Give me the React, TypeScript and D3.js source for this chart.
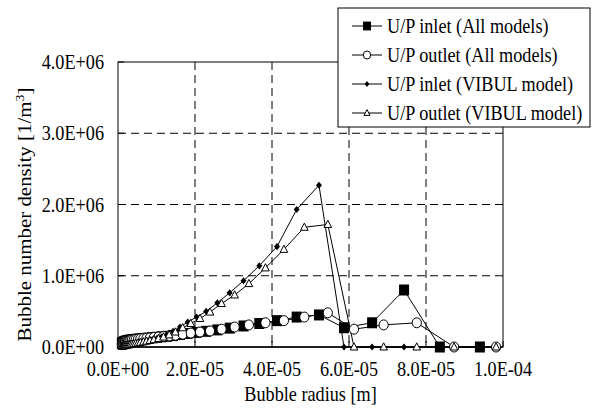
import * as d3 from 'd3';

// radii in micrometres, values in 1e6 per m3
const inletRadius = [1.0, 1.1, 1.2, 1.4, 1.5, 1.7, 1.9, 2.2, 2.5, 2.8, 3.1, 3.5, 3.9, 4.4, 5.0, 5.6, 6.3, 7.1, 7.9, 8.9, 10.1, 11.3, 12.7, 14.3, 16.1, 18.1, 20.4, 22.9, 25.8, 29.0, 32.6, 36.7, 41.3, 46.4, 52.2, 58.7, 66.0, 74.3, 83.6, 94.0];
const outletRadius = [1.0, 1.1, 1.3, 1.4, 1.6, 1.8, 2.0, 2.3, 2.6, 2.9, 3.2, 3.6, 4.1, 4.6, 5.2, 5.8, 6.6, 7.4, 8.3, 9.3, 10.5, 11.8, 13.3, 14.9, 16.8, 18.9, 21.3, 23.9, 26.9, 30.3, 34.0, 38.3, 43.1, 48.4, 54.5, 61.3, 69.0, 77.6, 87.3, 98.2];

const inletAll = [0.05, 0.055, 0.06, 0.065, 0.07, 0.075, 0.08, 0.085, 0.09, 0.093, 0.096, 0.1, 0.103, 0.106, 0.11, 0.113, 0.117, 0.121, 0.125, 0.13, 0.136, 0.143, 0.15, 0.16, 0.175, 0.19, 0.205, 0.22, 0.24, 0.265, 0.295, 0.33, 0.37, 0.42, 0.45, 0.27, 0.34, 0.8, 0, 0];
const outletAll = [0.045, 0.05, 0.055, 0.06, 0.065, 0.07, 0.075, 0.08, 0.085, 0.09, 0.094, 0.098, 0.102, 0.106, 0.11, 0.114, 0.118, 0.123, 0.128, 0.133, 0.14, 0.147, 0.155, 0.165, 0.18, 0.195, 0.21, 0.225, 0.25, 0.28, 0.31, 0.34, 0.37, 0.42, 0.48, 0.25, 0.31, 0.34, 0, 0];
const inletVibul = [0.01, 0.012, 0.014, 0.016, 0.018, 0.02, 0.023, 0.026, 0.03, 0.033, 0.037, 0.041, 0.046, 0.051, 0.057, 0.064, 0.072, 0.081, 0.091, 0.103, 0.12, 0.14, 0.17, 0.22, 0.28, 0.35, 0.42, 0.5, 0.62, 0.76, 0.93, 1.14, 1.41, 1.93, 2.27, 0, 0, 0, 0, 0];
const outletVibul = [0.01, 0.012, 0.014, 0.016, 0.018, 0.02, 0.023, 0.026, 0.03, 0.033, 0.037, 0.041, 0.046, 0.051, 0.057, 0.064, 0.072, 0.081, 0.091, 0.103, 0.118, 0.14, 0.17, 0.21, 0.27, 0.33, 0.4, 0.49, 0.61, 0.73, 0.89, 1.11, 1.37, 1.68, 1.72, 0, 0, 0, 0, 0];

const xTicks = [0, 2e-5, 4e-5, 6e-5, 8e-5, 1e-4];
const yTicks = [0, 1e6, 2e6, 3e6, 4e6];
const seriesNames = ['U/P inlet (All models)', 'U/P outlet (All models)', 'U/P inlet (VIBUL model)', 'U/P outlet (VIBUL model)'];

const W = 593;
const H = 415;
const left = 118, right = 503, top = 62, bottom = 347;
const FONT = '"Liberation Serif", "Times New Roman", serif';
const FS = 18.2;
const SY = 1.15;

const fmt = (v: number) => {
  if (v === 0) return '0.0E+00';
  const e = Math.floor(Math.log10(v) + 1e-9);
  const m = v / Math.pow(10, e);
  const sign = e < 0 ? '-' : '+';
  return `${m.toFixed(1)}E${sign}${String(Math.abs(e)).padStart(2, '0')}`;
};

const T = ({ x, y, anchor = 'start', children }: any) => (
  <text transform={`translate(${x},${y}) scale(1,${SY})`} textAnchor={anchor} fontFamily={FONT} fontSize={FS} fill="#000">
    {children}
  </text>
);

const Marker = ({ kind, x, y, s = 1 }: any) => {
  if (kind === 'square') return <rect x={x - 5 * s} y={y - 5.5 * s} width={10 * s} height={11 * s} fill="#000" />;
  if (kind === 'circle') return <ellipse cx={x} cy={y} rx={4.6 * s} ry={5 * s} fill="#fff" stroke="#000" strokeWidth={1} />;
  if (kind === 'diamond') return <path d={`M${x},${y - 3.6 * s}L${x + 3 * s},${y}L${x},${y + 3.6 * s}L${x - 3 * s},${y}Z`} fill="#000" />;
  return <path d={`M${x},${y - 4.2 * s}L${x + 3.8 * s},${y + 3 * s}L${x - 3.8 * s},${y + 3 * s}Z`} fill="#fff" stroke="#000" strokeWidth={1} />;
};

export default function App() {
  const x = d3.scaleLinear().domain([0, 1e-4]).range([left, right]);
  const y = d3.scaleLinear().domain([0, 4e6]).range([bottom, top]);

  const series = [
    { r: inletRadius, v: inletAll, kind: 'square' },
    { r: outletRadius, v: outletAll, kind: 'circle' },
    { r: inletRadius, v: inletVibul, kind: 'diamond' },
    { r: outletRadius, v: outletVibul, kind: 'triangle' },
  ].map((s) => ({ ...s, pts: s.r.map((r, i) => [x(r * 1e-6), y(s.v[i] * 1e6)] as [number, number]) }));

  const line = d3.line();

  return (
    <svg width={W} height={H} style={{ position: 'absolute', left: 0, top: 0, background: '#fff' }}>
      <rect x={0} y={0} width={W} height={H} fill="#fff" />
      {/* grid */}
      {yTicks.slice(1, -1).map((t) => (
        <line key={'gy' + t} x1={left} x2={right} y1={y(t)} y2={y(t)} stroke="#000" strokeDasharray="8,5" />
      ))}
      {xTicks.slice(1, -1).map((t) => (
        <line key={'gx' + t} x1={x(t)} x2={x(t)} y1={top} y2={bottom} stroke="#000" strokeDasharray="8,5" />
      ))}
      {/* frame */}
      <rect x={left} y={top} width={right - left} height={bottom - top} fill="none" stroke="#000" strokeWidth={1} />
      <line x1={left} x2={right} y1={bottom} y2={bottom} stroke="#000" strokeWidth={1.5} />
      {yTicks.map((t) => (
        <line key={'ty' + t} x1={left} x2={left + 6} y1={y(t)} y2={y(t)} stroke="#000" />
      ))}
      {xTicks.map((t) => (
        <line key={'tx' + t} x1={x(t)} x2={x(t)} y1={bottom} y2={bottom - 6} stroke="#000" />
      ))}
      {/* series */}
      {series.map((s, i) => (
        <g key={'s' + i}>
          <path d={line(s.pts) || ''} fill="none" stroke="#000" strokeWidth={1} />
        </g>
      ))}
      {series.map((s, i) => (
        <g key={'m' + i}>
          {s.pts.map((p, j) => (
            <Marker key={j} kind={s.kind} x={p[0]} y={p[1]} />
          ))}
        </g>
      ))}
      {/* tick labels */}
      {yTicks.map((t) => (
        <T key={'ly' + t} x={104} y={y(t) + 7} anchor="end">{fmt(t)}</T>
      ))}
      {xTicks.map((t) => (
        <T key={'lx' + t} x={x(t)} y={376} anchor="middle">{fmt(t)}</T>
      ))}
      <T x={(left + right) / 2} y={401} anchor="middle">Bubble radius [m]</T>
      <text transform={`translate(31,${(top + bottom) / 2 + 10}) rotate(-90) scale(${SY},1)`} textAnchor="middle" fontFamily={FONT} fontSize={FS} fill="#000">
        Bubble number density [1/m<tspan dy={-7} fontSize={12}>3</tspan><tspan dy={7}>]</tspan>
      </text>
      {/* legend */}
      <rect x={338} y={8} width={252} height={119} fill="#fff" stroke="#000" strokeWidth={1} />
      {seriesNames.map((name, i) => {
        const ly = 26 + i * 29;
        return (
          <g key={'lg' + i}>
            <line x1={352} x2={382} y1={ly} y2={ly} stroke="#000" />
            <Marker kind={series[i].kind} x={367} y={ly} s={0.8} />
            <T x={387} y={ly + 7}>{name}</T>
          </g>
        );
      })}
    </svg>
  );
}
